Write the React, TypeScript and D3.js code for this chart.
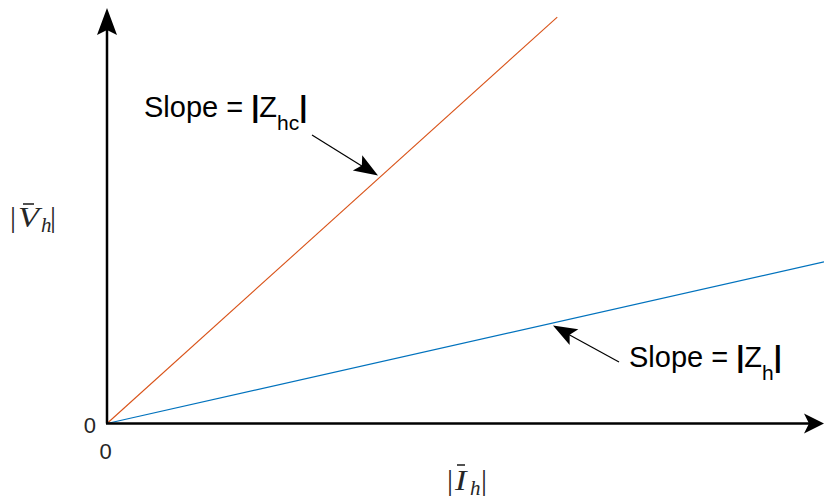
import React from "react";
import * as d3 from "d3";

// Two impedance lines through the origin: |V| = |Z| * |I|
const currentHC = [0, 62.8];
const voltageHC = [0, 97.8];
const currentH = [0, 100];
const voltageH = [0, 38.9];
const xTickLabels = ["0"];
const yTickLabels = ["0"];

const W = 824;
const H = 499;
const x0 = 107;
const y0 = 423.5;

const xScale = d3.scaleLinear().domain([0, 100]).range([x0, 824]);
const yScale = d3.scaleLinear().domain([0, 100]).range([y0, 8]);

const lineGen = d3
  .line<[number, number]>()
  .x((d) => xScale(d[0]))
  .y((d) => yScale(d[1]));

const zip = (a: number[], b: number[]): [number, number][] =>
  a.map((v, i) => [v, b[i]]);

// Notched arrowhead pointing from (x1,y1) towards the tip (x2,y2)
function arrowHead(
  x1: number,
  y1: number,
  x2: number,
  y2: number,
  len: number,
  half: number,
  notch: number
) {
  const a = Math.atan2(y2 - y1, x2 - x1);
  const ux = Math.cos(a);
  const uy = Math.sin(a);
  const px = -uy;
  const py = ux;
  const bx = x2 - ux * len;
  const by = y2 - uy * len;
  const nx = x2 - ux * (len - notch);
  const ny = y2 - uy * (len - notch);
  const p = d3.path();
  p.moveTo(x2, y2);
  p.lineTo(bx + px * half, by + py * half);
  p.lineTo(nx, ny);
  p.lineTo(bx - px * half, by - py * half);
  p.closePath();
  return p.toString();
}

const sans = "'Liberation Sans', Arial, Helvetica, sans-serif";
const serif = "'Liberation Serif', 'Times New Roman', serif";

// |X̄_h| in math style, glyphs placed one by one
function MathLabel(props: {
  x: number;
  y: number;
  letter: string;
  letterDx: number;
  subDx: number;
  barDx: number;
  overX1: number;
  overX2: number;
  overY: number;
}) {
  const { x, y, letter, letterDx, subDx, barDx, overX1, overX2, overY } = props;
  return (
    <g fontFamily={serif} fill="#262626">
      <text x={x} y={y} fontSize={30}>|</text>
      <text
        x={x + letterDx}
        y={y}
        fontSize={30}
        fontStyle="italic"
        transform={`translate(${x + letterDx},0) scale(1.15,1) translate(${-(x + letterDx)},0)`}
      >
        {letter}
      </text>
      <text x={x + subDx} y={y + 5} fontSize={21} fontStyle="italic">
        h
      </text>
      <text x={x + barDx} y={y} fontSize={30}>|</text>
      <line
        x1={overX1}
        y1={overY}
        x2={overX2}
        y2={overY}
        stroke="#262626"
        strokeWidth={1.6}
      />
    </g>
  );
}

export default function App() {
  return (
    <svg
      width={W}
      height={H}
      style={{ position: "absolute", left: 0, top: 0, background: "#fff" }}
    >
      {/* impedance lines */}
      <path
        d={lineGen(zip(currentHC, voltageHC)) || ""}
        fill="none"
        stroke="#D95319"
        strokeWidth={1.1}
      />
      <path
        d={lineGen(zip(currentH, voltageH)) || ""}
        fill="none"
        stroke="#0072BD"
        strokeWidth={1.1}
      />

      {/* axes with arrowheads */}
      <line x1={x0} y1={y0} x2={x0} y2={20} stroke="#000" strokeWidth={2.5} />
      <path d={arrowHead(x0, 100, x0, 8, 27, 10, 5)} fill="#000" />
      <line x1={x0 - 1} y1={y0} x2={812} y2={y0} stroke="#000" strokeWidth={2.5} />
      <path d={arrowHead(700, y0, 824, y0, 20, 10, 5)} fill="#000" />

      {/* tick labels */}
      {xTickLabels.map((t, i) => (
        <text
          key={"x" + i}
          x={xScale(0) - 1.5}
          y={459}
          textAnchor="middle"
          fontFamily={sans}
          fontSize={22}
          fill="#262626"
        >
          {t}
        </text>
      ))}
      {yTickLabels.map((t, i) => (
        <text
          key={"y" + i}
          x={96}
          y={yScale(0) + 9}
          textAnchor="end"
          fontFamily={sans}
          fontSize={22}
          fill="#262626"
        >
          {t}
        </text>
      ))}

      {/* axis labels */}
      <MathLabel
        x={10}
        y={227}
        letter="V"
        letterDx={8}
        subDx={31}
        barDx={40}
        overX1={23}
        overX2={34}
        overY={204}
      />
      <MathLabel
        x={447}
        y={490}
        letter="I"
        letterDx={8}
        subDx={23}
        barDx={34}
        overX1={457}
        overX2={465}
        overY={465}
      />

      {/* slope annotations */}
      <g fontFamily={sans} fontSize={29} fill="#000">
        <text x={144} y={116.5}>
          Slope = <tspan fontWeight="bold">|</tspan>Z
          <tspan fontSize={21} dy={13}>hc</tspan>
          <tspan dy={-13} fontWeight="bold">|</tspan>
        </text>
        <text x={629} y={367}>
          Slope = <tspan fontWeight="bold">|</tspan>Z
          <tspan fontSize={21} dy={13}>h</tspan>
          <tspan dy={-13} fontWeight="bold">|</tspan>
        </text>
      </g>
      <line x1={312} y1={135} x2={365} y2={168} stroke="#000" strokeWidth={1.2} />
      <path d={arrowHead(312, 135, 378, 175.5, 24, 9, 5)} fill="#000" />
      <line x1={619} y1={362} x2={566} y2={333} stroke="#000" strokeWidth={1.2} />
      <path d={arrowHead(619, 362, 553, 325.5, 24, 9, 5)} fill="#000" />
    </svg>
  );
}
